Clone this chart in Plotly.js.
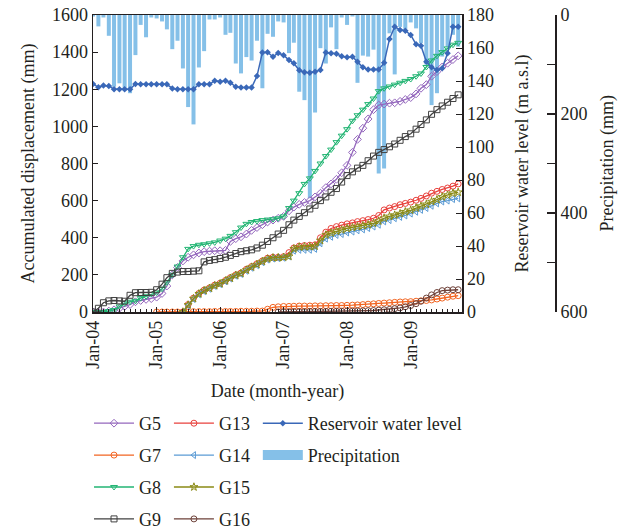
<!DOCTYPE html>
<html>
<head>
<meta charset="utf-8">
<script src="https://cdn.plot.ly/plotly-3.0.1.min.js"></script>
<style>
  html, body { margin: 0; padding: 0; background: #ffffff; }
  #chart { width: 619px; height: 531px; }
</style>
</head>
<body>
<div id="chart"></div>
<script>
// Monthly observations, Jan 2004 – Oct 2009
const months = [];
for (let k = 0; k < 70; k++) {
  const yr = 2004 + Math.floor(k / 12);
  const mo = (k % 12) + 1;
  months.push(yr + '-' + String(mo).padStart(2, '0') + '-01');
}

// Accumulated displacement (mm)
const g5 = [0,0,0,5,12,20,30,40,55,62,68,72,80,100,140,200,240,275,295,308,318,325,328,330,330,332,380,395,405,420,440,455,470,485,495,505,515,545,565,580,590,600,620,640,670,690,715,750,790,860,930,990,1040,1090,1115,1120,1125,1127,1135,1145,1155,1175,1205,1225,1270,1295,1320,1340,1360,1380];
const g7 = [null,null,null,null,null,null,null,null,null,null,null,null,0,0,0,0,0,0,0,2,2,2,2,3,3,3,3,3,4,4,4,5,5,15,25,28,30,30,31,32,32,32,33,33,34,34,35,35,36,37,38,40,42,44,46,48,50,52,54,55,56,58,60,62,65,70,75,80,85,88];
const g8 = [0,0,0,5,11,30,47,55,60,75,85,97,105,125,160,200,245,295,340,355,362,365,370,375,385,395,410,430,455,475,485,490,495,498,500,505,515,560,600,640,690,720,760,800,840,875,915,950,985,1030,1060,1090,1120,1150,1190,1205,1215,1225,1235,1245,1255,1270,1285,1320,1355,1380,1400,1420,1440,1450];
const g9 = [0,20,50,60,62,60,58,90,104,105,105,106,120,150,185,208,215,218,218,220,222,270,278,282,288,295,305,315,325,330,335,345,360,380,400,420,440,470,495,515,535,555,575,600,620,645,665,700,735,755,775,790,815,840,860,875,890,905,925,945,960,985,1010,1035,1065,1090,1110,1130,1150,1170];
const g13 = [null,null,null,null,null,null,null,null,null,null,null,null,null,null,null,null,null,0,40,75,100,118,130,145,155,170,185,200,210,230,245,260,275,290,295,295,298,320,345,355,358,360,362,400,430,450,460,468,475,480,487,492,498,505,520,550,560,568,578,585,592,602,612,625,640,650,660,668,678,690];
const g14 = [null,null,null,null,null,null,null,null,null,null,null,null,null,null,null,null,null,0,35,70,95,112,125,140,150,165,180,195,205,222,238,252,268,282,288,290,292,300,330,335,335,335,340,370,395,405,415,420,428,433,440,445,452,460,470,488,495,505,512,520,530,540,550,560,572,585,595,600,608,612];
const g15 = [null,null,null,null,null,null,null,null,null,null,null,null,null,null,null,null,null,0,38,72,98,115,128,142,152,168,182,198,208,226,242,256,272,286,292,293,295,300,340,350,352,352,355,385,415,425,435,442,450,455,460,465,470,478,490,505,515,522,530,540,548,560,570,580,595,605,620,630,640,645];
const g16 = [null,null,null,null,null,null,null,null,null,null,null,null,null,null,null,null,null,null,null,null,null,null,null,null,null,null,null,null,null,null,null,null,null,null,null,0,1,1,2,2,2,3,3,3,3,4,4,4,5,5,6,6,7,8,10,12,14,18,22,28,35,45,58,75,92,105,115,118,120,120];

// Reservoir water level (m a.s.l.)
const waterLevel = [138.2,136.2,137.2,137,135,135,135,135,138.2,138,138,138,138,138,138,135.5,135,135,135,135,138,138,138,140.2,139.5,140.2,139,136.5,136,136,136,143,157.2,157.4,154.7,157,155.6,152.7,150.7,146.5,145.3,145,145.6,146.7,157.2,156.8,156.5,155,154.4,154.7,151.7,148.3,147,147,147,151,165.5,172.9,170.9,170.5,167.9,162.2,161.4,151.7,148.3,146.7,147.7,156.8,172.9,172.9];

// Monthly precipitation (mm)
const precipitation = [3,23,5,42,145,138,153,158,81,20,45,5,7,13,29,69,52,108,186,221,106,73,9,9,5,40,36,98,118,85,92,52,148,38,44,13,15,77,56,155,172,370,197,67,98,25,69,5,20,3,137,82,84,70,320,310,37,120,24,28,15,27,57,100,182,158,84,64,40,64];

const ink = '#231f20';
const serif = '"Liberation Serif", "Times New Roman", serif';
const DAY = 86400000;

function gaugeTrace(name, values, color, symbol, legend) {
  return {
    type: 'scatter', mode: 'lines+markers', name: name,
    x: months, y: values, yaxis: 'y2',
    line: { color: color, width: 1.3 },
    marker: { symbol: symbol, size: 6, color: color, line: { color: color, width: 1 } },
    legend: legend, legendgroup: name, connectgaps: false
  };
}

const traces = [
  {
    type: 'bar', name: 'Precipitation', x: months, y: precipitation, yaxis: 'y',
    marker: { color: '#85c0e8', line: { width: 0 } },
    width: 23 * DAY, showlegend: false, base: 0
  },
  gaugeTrace('G5', g5, '#9467bd', 'diamond-open', 'legend'),
  gaugeTrace('G7', g7, '#f26522', 'circle-open', 'legend'),
  gaugeTrace('G8', g8, '#22b573', 'triangle-down-open', 'legend'),
  gaugeTrace('G9', g9, '#404040', 'square-open', 'legend'),
  gaugeTrace('G13', g13, '#e8413c', 'circle-open', 'legend2'),
  gaugeTrace('G14', g14, '#5b9bd5', 'triangle-left-open', 'legend2'),
  gaugeTrace('G15', g15, '#8a8a14', 'star-open', 'legend2'),
  gaugeTrace('G16', g16, '#6d4038', 'circle-open', 'legend2'),
  {
    type: 'scatter', mode: 'lines+markers', name: 'Reservoir water level',
    x: months, y: waterLevel, yaxis: 'y3',
    line: { color: '#3a68b8', width: 1.5 },
    marker: { symbol: 'diamond', size: 5, color: '#3a68b8' },
    legend: 'legend3', legendgroup: 'wl'
  },
  {
    // legend swatch for the precipitation bars
    type: 'scatter', mode: 'lines', name: 'Precipitation',
    x: [null], y: [null], yaxis: 'y',
    line: { color: '#85c0e8', width: 17 },
    legend: 'legend3', legendgroup: 'pr', hoverinfo: 'skip'
  }
];

const legendBase = {
  yanchor: 'top', xanchor: 'left', y: -0.3131,
  bgcolor: 'rgba(0,0,0,0)', borderwidth: 0,
  font: { family: serif, size: 18, color: ink },
  tracegroupgap: 5.5, itemwidth: 40, maxheight: 220
};

const layout = {
  width: 619, height: 531,
  margin: { l: 93, r: 63, t: 15, b: 219, pad: 0, autoexpand: false },
  paper_bgcolor: '#ffffff', plot_bgcolor: 'rgba(0,0,0,0)',
  font: { family: serif, size: 18, color: ink },
  showlegend: true,
  barmode: 'overlay',
  xaxis: {
    type: 'date', domain: [0, 369 / 463],
    range: ['2004-01-01', '2009-10-23'],
    tick0: '2004-01-01', dtick: 'M12', tickformat: '%b-%y', tickangle: -90,
    ticks: 'inside', ticklen: 5, tickcolor: ink, tickwidth: 1,
    minor: { tick0: '2004-01-01', dtick: 'M1', ticks: 'inside', ticklen: 3, tickcolor: ink, showgrid: false },
    showline: true, linecolor: ink, linewidth: 1.5, mirror: true,
    showgrid: false, zeroline: false,
    tickfont: { family: serif, size: 18, color: ink },
    title: { text: 'Date (month-year)', font: { family: serif, size: 18, color: ink }, standoff: 16 }
  },
  yaxis: {
    anchor: 'free', position: 1, side: 'right',
    range: [600, 0],
    tickvals: [0, 200, 400, 600],
    ticks: 'inside', ticklen: 8, tickwidth: 1.5, tickcolor: ink,
    minor: { tick0: 0, dtick: 100, ticks: 'inside', ticklen: 8, tickwidth: 1.5, tickcolor: ink, showgrid: false },
    showline: true, linecolor: ink, linewidth: 2,
    showgrid: false, zeroline: false,
    tickfont: { family: serif, size: 18, color: ink }
  },
  yaxis2: {
    overlaying: 'y', side: 'left', anchor: 'x',
    range: [0, 1600], dtick: 200,
    ticks: 'inside', ticklen: 5, tickcolor: ink,
    showline: true, linecolor: ink, linewidth: 1.5,
    showgrid: false, zeroline: false,
    tickfont: { family: serif, size: 18, color: ink },
    title: { text: 'Accumulated displacement (mm)', font: { family: serif, size: 18, color: ink }, standoff: 12 }
  },
  yaxis3: {
    overlaying: 'y', side: 'right', anchor: 'x',
    range: [0, 180], dtick: 20,
    ticks: 'inside', ticklen: 6, tickcolor: ink,
    showline: true, linecolor: ink, linewidth: 1.5,
    showgrid: false, zeroline: false,
    tickfont: { family: serif, size: 18, color: ink },
    title: { text: 'Reservoir water level (m a.s.l)', font: { family: serif, size: 18, color: ink }, standoff: 22 }
  },
  // precipitation axis title, placed beside the free right-hand axis
  annotations: [{
    text: 'Precipitation (mm)', xref: 'paper', yref: 'paper',
    x: (607 - 93) / 463, y: 0.5, xanchor: 'center', yanchor: 'middle',
    textangle: -90, showarrow: false,
    font: { family: serif, size: 18, color: ink }
  }],
  legend: Object.assign({}, legendBase, { x: -0.0086 }),
  legend2: Object.assign({}, legendBase, { x: 0.164 }),
  legend3: Object.assign({}, legendBase, { x: 0.356 })
};

Plotly.newPlot('chart', traces, layout, { displayModeBar: false, staticPlot: true });
</script>
</body>
</html>
